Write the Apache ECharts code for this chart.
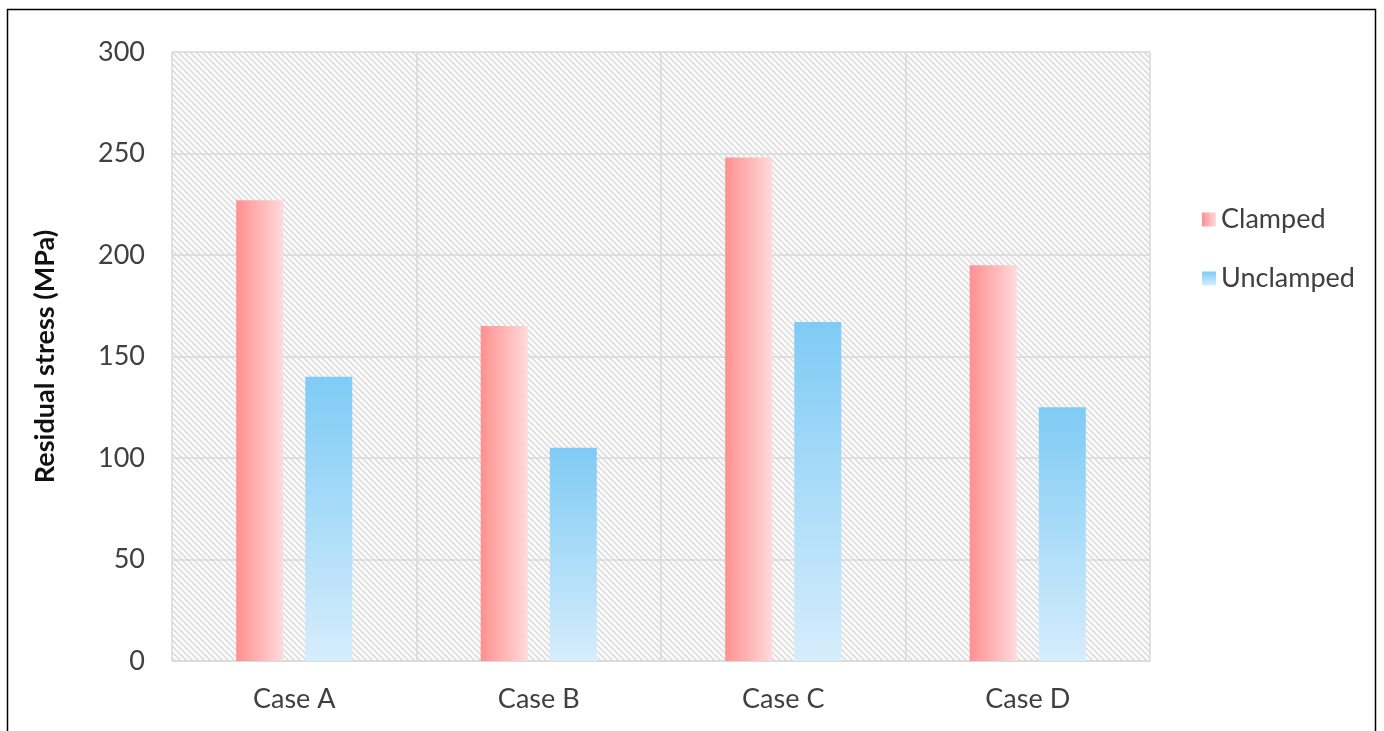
<!DOCTYPE html>
<html>
<head>
<meta charset="utf-8">
<script src="https://cdn.jsdelivr.net/npm/echarts@6/dist/echarts.min.js"></script>
<style>
  html, body { margin: 0; padding: 0; background: #fff; }
  #chart { width: 1384px; height: 731px; }
</style>
</head>
<body>
<div id="chart"></div>
<script>
const categories = ['Case A', 'Case B', 'Case C', 'Case D'];
const clamped = [227, 165, 248, 195];
const unclamped = [140, 105, 167, 125];
const yTicks = { min: 0, max: 300, interval: 50 };

// Diagonal "\" hatch used as the plot-area fill, built pixel by pixel
function hatchPattern() {
  const s = 6;
  const c = document.createElement('canvas');
  c.width = s; c.height = s;
  const g = c.getContext('2d');
  const img = g.createImageData(s, s);
  const shades = [220, 232, 251, 253, 251, 232];
  for (let y = 0; y < s; y++) {
    for (let x = 0; x < s; x++) {
      const k = ((x - y) % s + s) % s;
      const v = shades[k];
      const i = (y * s + x) * 4;
      img.data[i] = v; img.data[i + 1] = v; img.data[i + 2] = v; img.data[i + 3] = 255;
    }
  }
  g.putImageData(img, 0, 0);
  return { image: c, repeat: 'repeat' };
}

const font = 'Lato, "Open Sans", sans-serif';
const chart = echarts.init(document.getElementById('chart'), null, { renderer: 'canvas' });

chart.setOption({
  animation: false,
  textStyle: { fontFamily: font },
  graphic: [{
    type: 'rect',
    shape: { x: 7.5, y: 9.5, width: 1368, height: 740 },
    style: { fill: 'none', stroke: '#000', lineWidth: 1.5 },
    silent: true
  }],
  grid: {
    left: 172, right: 234, top: 52, bottom: 70,
    show: true,
    backgroundColor: hatchPattern(),
    borderWidth: 0
  },
  legend: {
    orient: 'vertical',
    left: 1197,
    top: 201,
    itemWidth: 14,
    itemHeight: 14,
    itemGap: 32,
    icon: 'rect',
    textStyle: { fontSize: 27, color: '#404040', fontFamily: font, padding: [0, 0, 0, 0] },
    data: ['Clamped', 'Unclamped']
  },
  xAxis: {
    type: 'category',
    data: categories,
    axisLine: { show: true, lineStyle: { color: '#d9d9d9', width: 1.5 } },
    axisTick: { show: false },
    axisLabel: { fontSize: 27, color: '#404040', margin: 25, fontFamily: font },
    splitLine: { show: true, interval: 0, lineStyle: { color: '#d9d9d9', width: 1.5 } }
  },
  yAxis: {
    type: 'value',
    min: yTicks.min, max: yTicks.max, interval: yTicks.interval,
    name: 'Residual stress (MPa)',
    nameLocation: 'middle',
    nameGap: 113,
    nameTextStyle: { fontSize: 27, fontWeight: 'bold', color: '#111', fontFamily: font },
    axisLine: { show: false },
    axisTick: { show: false },
    axisLabel: { fontSize: 27, color: '#404040', margin: 27, fontFamily: font },
    splitLine: { show: true, lineStyle: { color: '#d9d9d9', width: 1.5 } }
  },
  series: [
    {
      name: 'Clamped',
      type: 'bar',
      data: clamped,
      barWidth: 47,
      barGap: '47%',
      itemStyle: {
        color: new echarts.graphic.LinearGradient(0, 0, 1, 0, [
          { offset: 0, color: '#ff9090' },
          { offset: 1, color: '#ffdada' }
        ])
      }
    },
    {
      name: 'Unclamped',
      type: 'bar',
      data: unclamped,
      barWidth: 47,
      itemStyle: {
        color: new echarts.graphic.LinearGradient(0, 0, 0, 1, [
          { offset: 0, color: '#7fcbf5' },
          { offset: 1, color: '#d6edfc' }
        ])
      }
    }
  ]
});
</script>
</body>
</html>
